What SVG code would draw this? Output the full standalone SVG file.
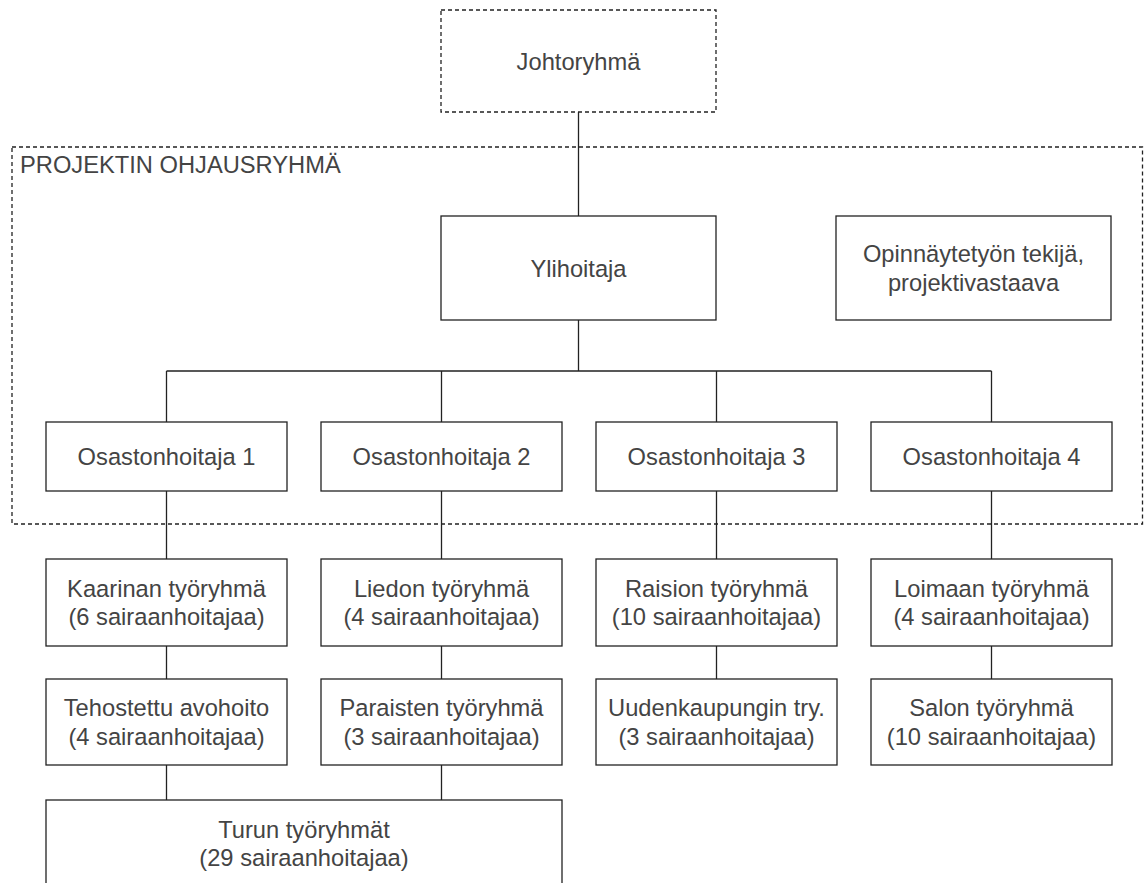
<svg xmlns="http://www.w3.org/2000/svg" width="1144" height="883" viewBox="0 0 1144 883">
<style>
.box{fill:#fff;stroke:#222;stroke-width:1.3}
.dash{fill:none;stroke:#222;stroke-width:1.3;stroke-dasharray:4 3}
.ln{fill:none;stroke:#222;stroke-width:1.3}
text{font-family:"Liberation Sans",Arial,Helvetica,sans-serif;font-size:23.7px;fill:#444}
.c{text-anchor:middle}
</style>
<rect width="1144" height="883" fill="#fff"/>
<g id="ohjausryhma">
<rect class="dash" x="12" y="147" width="1130.5" height="377"/>
<text x="20" y="172.5">PROJEKTIN OHJAUSRYHMÄ</text>
</g>
<g id="connectors">
<path class="ln" d="M578.5 112V216"/>
<path class="ln" d="M578.5 320V371M166.5 371H991.5M166.5 371V422M441.5 371V422M716.5 371V422M991.5 371V422"/>
<path class="ln" d="M166.5 491V559M441.5 491V559M716.5 491V559M991.5 491V559"/>
<path class="ln" d="M166.5 646V679M441.5 646V679M716.5 646V679M991.5 646V679"/>
<path class="ln" d="M166.5 765V800M441.5 765V800"/>
</g>
<g id="johtoryhma">
<rect class="dash" x="441" y="10" width="275" height="102"/>
<text class="c" x="578.5" y="69.5">Johtoryhmä</text>
</g>
<g id="ylihoitaja">
<rect class="box" x="441" y="216" width="275" height="104"/>
<text class="c" x="578.5" y="276.5">Ylihoitaja</text>
</g>
<g id="opinnaytetyon-tekija">
<rect class="box" x="836" y="216" width="275" height="104"/>
<text class="c" x="973.5" y="262.3">Opinnäytetyön tekijä,</text>
<text class="c" x="973.5" y="290.7">projektivastaava</text>
</g>
<g id="osastonhoitaja1">
<rect class="box" x="46" y="422" width="241" height="69"/>
<text class="c" x="166.5" y="465">Osastonhoitaja 1</text>
</g>
<g id="osastonhoitaja2">
<rect class="box" x="321" y="422" width="241" height="69"/>
<text class="c" x="441.5" y="465">Osastonhoitaja 2</text>
</g>
<g id="osastonhoitaja3">
<rect class="box" x="596" y="422" width="241" height="69"/>
<text class="c" x="716.5" y="465">Osastonhoitaja 3</text>
</g>
<g id="osastonhoitaja4">
<rect class="box" x="871" y="422" width="241" height="69"/>
<text class="c" x="991.5" y="465">Osastonhoitaja 4</text>
</g>
<g id="kaarinan">
<rect class="box" x="46" y="559" width="241" height="87"/>
<text class="c" x="166.5" y="596.8">Kaarinan työryhmä</text>
<text class="c" x="166.5" y="625.2">(6 sairaanhoitajaa)</text>
</g>
<g id="liedon">
<rect class="box" x="321" y="559" width="241" height="87"/>
<text class="c" x="441.5" y="596.8">Liedon työryhmä</text>
<text class="c" x="441.5" y="625.2">(4 sairaanhoitajaa)</text>
</g>
<g id="raision">
<rect class="box" x="596" y="559" width="241" height="87"/>
<text class="c" x="716.5" y="596.8">Raision työryhmä</text>
<text class="c" x="716.5" y="625.2">(10 sairaanhoitajaa)</text>
</g>
<g id="loimaan">
<rect class="box" x="871" y="559" width="241" height="87"/>
<text class="c" x="991.5" y="596.8">Loimaan työryhmä</text>
<text class="c" x="991.5" y="625.2">(4 sairaanhoitajaa)</text>
</g>
<g id="tehostettu">
<rect class="box" x="46" y="679" width="241" height="86"/>
<text class="c" x="166.5" y="716.3">Tehostettu avohoito</text>
<text class="c" x="166.5" y="744.7">(4 sairaanhoitajaa)</text>
</g>
<g id="paraisten">
<rect class="box" x="321" y="679" width="241" height="86"/>
<text class="c" x="441.5" y="716.3">Paraisten työryhmä</text>
<text class="c" x="441.5" y="744.7">(3 sairaanhoitajaa)</text>
</g>
<g id="uudenkaupungin">
<rect class="box" x="596" y="679" width="241" height="86"/>
<text class="c" x="716.5" y="716.3">Uudenkaupungin try.</text>
<text class="c" x="716.5" y="744.7">(3 sairaanhoitajaa)</text>
</g>
<g id="salon">
<rect class="box" x="871" y="679" width="241" height="86"/>
<text class="c" x="991.5" y="716.3">Salon työryhmä</text>
<text class="c" x="991.5" y="744.7">(10 sairaanhoitajaa)</text>
</g>
<g id="turun">
<rect class="box" x="46" y="800" width="516" height="87"/>
<text class="c" x="304" y="837.8">Turun työryhmät</text>
<text class="c" x="304" y="866.2">(29 sairaanhoitajaa)</text>
</g>
</svg>
